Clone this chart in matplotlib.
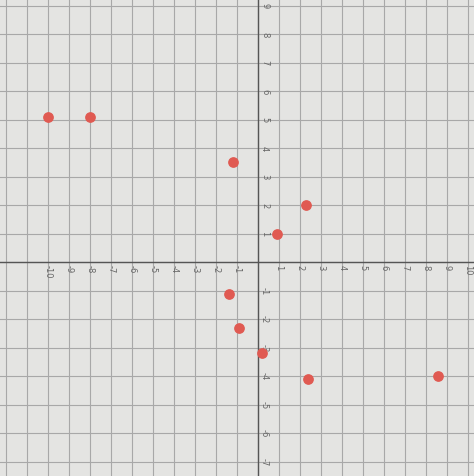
import matplotlib.pyplot as plt

xs = [-10, -8, -1.2, 2.3, 0.9, -1.4, -0.9, 0.2, 2.4, 8.6]
ys = [5.1, 5.1, 3.5, 2.0, 1.0, -1.1, -2.3, -3.2, -4.1, -4.0]

x_ticks = list(range(-10, 11))
y_ticks = list(range(-7, 10))

fig = plt.figure(figsize=(4.74, 4.76), dpi=100)
ax = fig.add_axes([0, 0, 1, 1])
fig.patch.set_facecolor('#dcdcdc')
ax.set_facecolor('#e4e4e2')
ax.set_xlim(-12.3, 10.3)
ax.set_ylim(-7.5, 9.2)

for v in range(-12, 11):
    ax.axvline(v, color='#a8a8a8', lw=0.8, zorder=1)
for v in range(-8, 10):
    ax.axhline(v, color='#a8a8a8', lw=0.8, zorder=1)
ax.axhline(0, color='#555555', lw=1.0, zorder=2)
ax.axvline(0, color='#555555', lw=1.0, zorder=2)

for t in x_ticks:
    if t != 0:
        ax.text(t, -0.1, str(t), fontsize=6, color='#666666', ha='center', va='top', rotation=-90)
for t in y_ticks:
    if t != 0:
        ax.text(0.1, t, str(t), fontsize=6, color='#666666', ha='left', va='center', rotation=-90)

ax.scatter(xs, ys, s=45, color='#e05a52', zorder=3)
ax.set_xticks([])
ax.set_yticks([])
for s in ax.spines.values():
    s.set_visible(False)

fig.savefig('out.png', dpi=100)
